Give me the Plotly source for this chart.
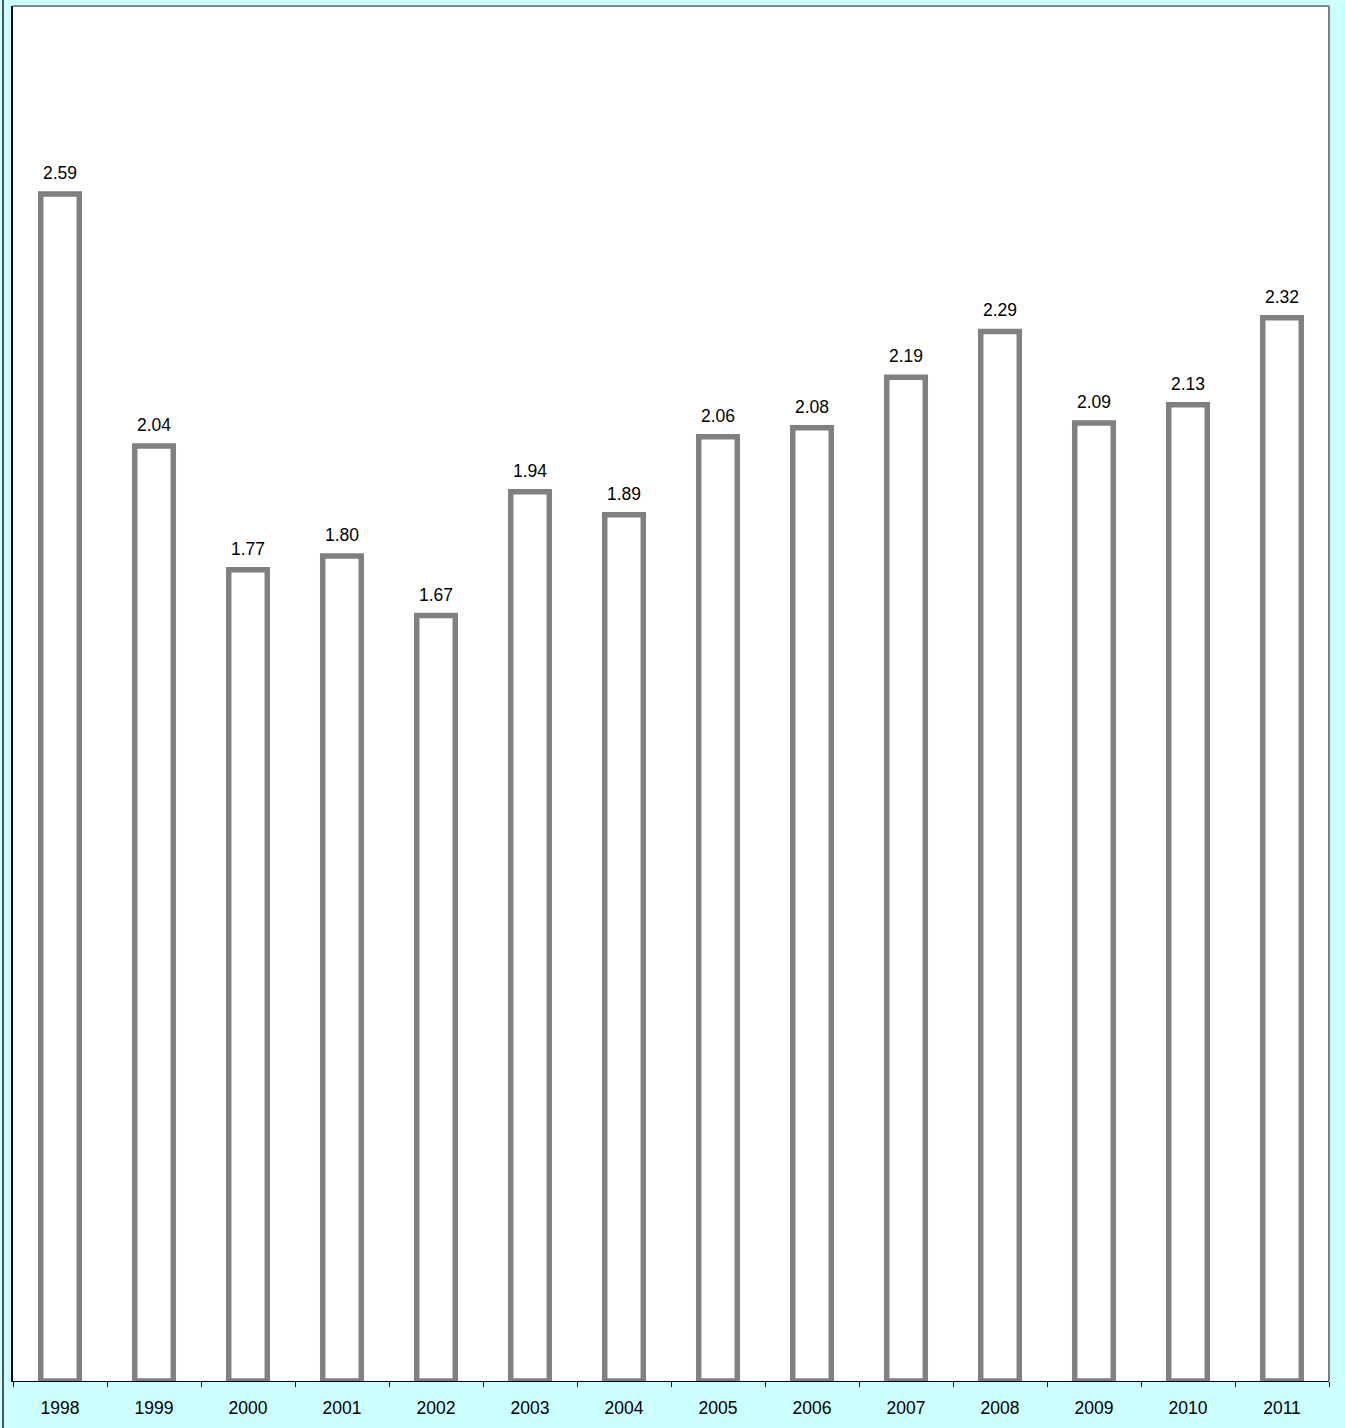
import plotly.graph_objects as go

years = ["1998", "1999", "2000", "2001", "2002", "2003", "2004",
         "2005", "2006", "2007", "2008", "2009", "2010", "2011"]
values = [2.59, 2.04, 1.77, 1.80, 1.67, 1.94, 1.89,
          2.06, 2.08, 2.19, 2.29, 2.09, 2.13, 2.32]

FONT = "Liberation Sans, Arial, sans-serif"

fig = go.Figure()
fig.add_trace(go.Bar(
    x=years, y=values,
    marker=dict(color="white", line=dict(color="#808080", width=5.5)),
    width=0.41,
    cliponaxis=False,
))

for i, v in enumerate(values):
    fig.add_annotation(x=i, y=v, xref="x", yref="y", text=f"{v:.2f}",
                       showarrow=False, yanchor="bottom", yshift=9,
                       font=dict(family=FONT, size=17.5, color="black"))

fig.update_layout(
    width=1345, height=1428,
    paper_bgcolor="#CCFFFF",
    plot_bgcolor="white",
    margin=dict(l=13, r=16, t=6, b=47),
    showlegend=False,
    font=dict(family=FONT, size=17.5, color="black"),
    xaxis=dict(
        type="category", range=[-0.5, len(years) - 0.5],
        tickson="boundaries", ticks="outside", ticklen=5,
        tickcolor="black", showline=True, linecolor="black", linewidth=1,
        showgrid=False, tickfont=dict(size=17.5), ticklabelstandoff=11,
        tickangle=0,
    ),
    yaxis=dict(
        range=[0, 3], showticklabels=False, showgrid=False, zeroline=False,
        showline=True, linecolor="black", linewidth=1.5, ticks="",
    ),
    shapes=[
        dict(type="line", xref="paper", yref="paper", x0=0, x1=1, y0=1, y1=1,
             line=dict(color="#606060", width=1.5)),
        dict(type="line", xref="paper", yref="paper", x0=1, x1=1, y0=0, y1=1,
             line=dict(color="#808080", width=2)),
        dict(type="line", xref="paper", yref="paper", x0=-10/1316, x1=-10/1316,
             y0=-47/1375, y1=1+6/1375, line=dict(color="#202020", width=1.5)),
    ],
)

fig.write_html("out.html", config={"displayModeBar": False},
               post_script="document.body.style.margin='0';document.body.style.overflow='hidden';")
